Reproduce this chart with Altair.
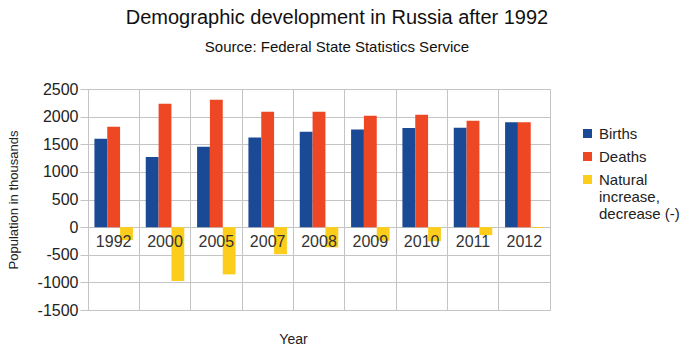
import altair as alt
import pandas as pd

years = ["1992", "2000", "2005", "2007", "2008", "2009", "2010", "2011", "2012"]
births = [1600, 1270, 1455, 1620, 1725, 1765, 1795, 1800, 1900]
deaths = [1815, 2235, 2305, 2090, 2090, 2015, 2035, 1925, 1900]
natural = [-235, -975, -855, -490, -365, -245, -255, -145, -15]
series = ["Births", "Deaths", "Natural increase, decrease (-)"]
colors = ["#1a4a95", "#ee4723", "#fdcd1b"]
y_ticks = [-1500, -1000, -500, 0, 500, 1000, 1500, 2000, 2500]

rows = []
for i, yr in enumerate(years):
    for s, v in zip(series, [births[i], deaths[i], natural[i]]):
        rows.append({"year": yr, "series": s, "value": v})
df = pd.DataFrame(rows)
label_df = pd.DataFrame({"year": years, "value": [0] * len(years)})

FONT = "Liberation Sans"
GRID = "#c4c4c4"

x_enc = alt.X(
    "year:N",
    sort=years,
    scale=alt.Scale(paddingInner=0, paddingOuter=0),
    axis=alt.Axis(
        title="Year",
        labels=False,
        ticks=False,
        domain=False,
        grid=True,
        gridColor=GRID,
        bandPosition=0,
        titleX=205,
        titleY=22,
        titleAlign="center",
        titleFont=FONT,
        titleFontSize=14,
        titleFontWeight="normal",
        titleColor="#222222",
    ),
)

y_enc = alt.Y(
    "value:Q",
    scale=alt.Scale(domain=[-1500, 2500], nice=False),
    axis=alt.Axis(
        title="Population in thousands",
        values=y_ticks,
        labelExpr="datum.value < 0 ? '-' + abs(datum.value) : '' + datum.value",
        labelOverlap=False,
        grid=True,
        gridColor=GRID,
        domain=True,
        domainColor=GRID,
        tickColor=GRID,
        tickSize=8,
        labelPadding=2,
        labelFont=FONT,
        labelFontSize=16,
        labelColor="#222222",
        titleFont=FONT,
        titleFontSize=13,
        titleFontWeight="normal",
        titleColor="#222222",
        titlePadding=17,
    ),
)

bars = alt.Chart(df).mark_bar().encode(
    x=x_enc,
    xOffset=alt.XOffset("series:N", sort=series,
                        scale=alt.Scale(paddingOuter=0.5, paddingInner=0)),
    y=y_enc,
    color=alt.Color(
        "series:N",
        sort=series,
        scale=alt.Scale(domain=series, range=colors),
        legend=alt.Legend(
            title=None,
            orient="none",
            legendX=492,
            legendY=37,
            symbolType="square",
            symbolSize=81,
            symbolStrokeWidth=0,
            labelFont=FONT,
            labelFontSize=15,
            labelColor="#222222",
            rowPadding=7,
            padding=0,
            labelLimit=200,
            labelExpr="datum.label == 'Natural increase, decrease (-)' ? ['Natural', 'increase,', 'decrease (-)'] : datum.label",
        ),
    ),
)

labels = alt.Chart(label_df).mark_text(
    dy=15, font=FONT, fontSize=16, color="#333333"
).encode(
    x=x_enc,
    y=y_enc,
    text="year:N",
)

chart = alt.layer(bars, labels).properties(
    width=462,
    height=221,
    padding={"left": 88, "top": 89, "right": 138, "bottom": 37},
    autosize=alt.AutoSizeParams(type="none"),
    title=alt.TitleParams(
        text="Demographic development in Russia after 1992",
        subtitle="Source: Federal State Statistics Service",
        font=FONT,
        fontSize=20,
        fontWeight="normal",
        color="#111111",
        subtitleFont=FONT,
        subtitleFontSize=15,
        subtitleColor="#111111",
        subtitlePadding=12,
        anchor="middle",
        dx=18,
        offset=26,
    ),
).configure_view(stroke=GRID)

chart.save("out.html", embed_options={"renderer": "svg", "actions": False})
